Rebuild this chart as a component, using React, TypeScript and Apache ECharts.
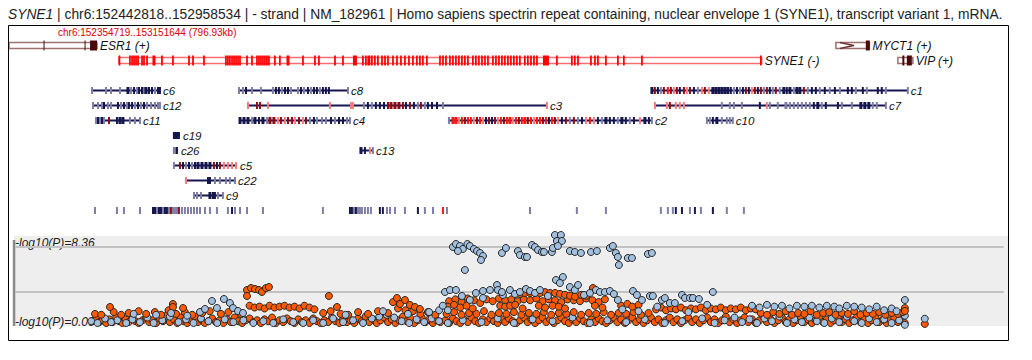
import React, { useEffect, useRef } from "react";
import * as echarts from "echarts";

// ---------- view (kb from chr6:152354719) ----------
const viewMinKb = 0;
const viewMaxKb = 796.93;

const titleGene = "SYNE1";
const titleRest =
  " | chr6:152442818..152958534 | - strand | NM_182961 | Homo sapiens spectrin repeat containing, nuclear envelope 1 (SYNE1), transcript variant 1, mRNA.";
const regionText = "chr6:152354719..153151644 (796.93kb)";
const yTopLabel = "-log10(P)=8.36";
const yBottomLabel = "-log10(P)=0.00";
const yTopValue = 8.36;
const yMidValue = 3.41;
const refLineValues = [yTopValue, yMidValue];

// ---------- genes ----------
const geneNames = ["ESR1 (+)", "SYNE1 (-)", "MYCT1 (+)", "VIP (+)"];
const geneStart = [0, 88.1, 663.3, 713.0];
const geneEnd = [70.6, 603.8, 690.2, 725.0];
const geneRow = [0, 1, 0, 1];
const geneKind = [1, 2, 3, 1];

// exons: [centerKb, widthKb?]
const esr1Exons = [[28.1, 0.8], [61.0, 0.8], [67.8, 5.6]];
const myct1Exons = [[688.9, 3.2]];
const vipExons = [[717.4, 1.6], [722.2, 4.0]];
const syne1Exons = [
  [88.6], [97.0], [98.7], [100.3], [101.9], [103.5], [106.7], [108.3], [110.7], [116.3, 2.4], [122.7], [131.5],
  [144.4], [147.6], [156.4], [174.0], [175.6], [177.2], [178.9], [180.5], [182.1], [183.7], [185.3], [190.9],
  [194.9], [198.9], [200.5], [202.1], [203.7], [205.3], [206.9], [208.5], [213.3], [217.3], [223.8, 2.4], [235.8],
  [245.4], [248.6], [261.5], [267.9], [277.5, 3.2], [283.9], [286.3], [288.7, 2.4], [291.1], [293.5], [295.9],
  [299.2], [301.6], [304.0], [308.0], [311.2], [314.4], [317.6], [320.8], [324.0], [327.2], [329.6], [332.0],
  [335.2], [345.7], [348.1], [350.5], [353.7], [356.1], [358.5], [360.9], [363.3], [365.7], [368.1], [372.1],
  [374.5], [376.9], [379.4], [381.8], [384.2], [388.2], [390.6], [393.0], [395.4], [397.8], [400.2], [402.6],
  [405.0], [407.4], [409.8], [413.8], [416.2], [418.7], [421.1], [423.5], [430.7, 4.8], [439.5], [451.5],
  [453.9], [456.4], [466.8], [470.0], [472.4], [478.8], [488.4], [493.2], [507.7], [603.1],
];

// ---------- clusters ----------
const clusterNames = ["c6", "c8", "c1", "c12", "c3", "c7", "c11", "c4", "c2", "c10", "c19", "c26", "c13", "c5", "c22", "c9"];
const clusterRow = [3, 3, 3, 4, 4, 4, 5, 5, 5, 5, 6, 7, 7, 8, 9, 10];
const clusterStart = [65.8, 184.5, 515.7, 67.4, 191.7, 518.1, 69.8, 184.5, 352.9, 559.8, 131.5, 131.5, 281.5, 132.3, 141.1, 148.4];
const clusterEnd = [121.1, 271.9, 721.0, 121.1, 431.5, 703.4, 105.1, 273.5, 515.7, 580.6, 137.1, 135.5, 291.9, 182.9, 181.3, 171.6];

// cluster exons: [centerKb, colourIndex, widthKb?]
const exC6 = [[66.6, 1], [77.8, 1], [81.8, 1], [89.0, 1], [95.4, 0, 2.4], [97.8, 1], [100.3, 0], [102.7, 1], [104.3, 0], [106.7, 0], [108.3, 1], [109.9, 0, 2.4], [112.3, 0], [114.7, 0], [117.1, 1], [119.5, 0], [121.1, 0]];
const exC8 = [[184.5, 1], [187.7, 1], [190.1, 0], [194.9, 1], [202.1, 1], [211.7, 1], [214.1, 0], [216.5, 0], [218.9, 1], [221.4, 0], [223.8, 0], [226.2, 1], [231.8, 1], [234.2, 0], [236.6, 1], [239.8, 0], [242.2, 1], [244.6, 0], [247.0, 0], [249.4, 1], [251.8, 0], [254.2, 0], [256.6, 0], [271.9, 1]];
const exC1 = [[515.7, 0, 2.4], [518.1, 2], [520.5, 0], [522.9, 1], [525.3, 2], [528.5, 3], [530.9, 2], [533.3, 4], [535.7, 2], [538.1, 0], [541.4, 2], [543.8, 4], [546.2, 2], [549.4, 0], [552.6, 1], [555.8, 4], [558.2, 2], [561.4, 4], [564.6, 0, 2.4], [567.0, 0, 2.4], [569.4, 0, 2.4], [571.8, 0, 2.4], [574.2, 0, 2.4], [576.6, 0, 2.4], [579.0, 0], [581.5, 1], [583.9, 0], [586.3, 1], [588.7, 0], [591.1, 2], [593.5, 0], [595.9, 4], [598.3, 2], [600.7, 0], [603.1, 2], [605.5, 1], [607.9, 2], [610.3, 0], [612.7, 1], [615.1, 2], [618.3, 1], [621.5, 0, 2.4], [623.9, 0], [626.4, 0, 2.4], [629.6, 1], [632.0, 0, 2.4], [634.4, 0, 2.4], [637.6, 2], [640.8, 1], [644.0, 0], [647.2, 0], [650.4, 1], [654.4, 0], [658.4, 1], [662.5, 0], [666.5, 1], [672.9, 0], [676.1, 0], [679.3, 1], [684.9, 0], [688.1, 1], [696.9, 0], [700.1, 0], [703.4, 1], [721.0, 1]];
const exC12 = [[67.4, 1], [71.4, 1], [74.6, 1], [76.2, 0], [79.4, 1], [81.8, 1], [87.4, 0], [89.8, 1], [92.2, 0], [94.6, 1], [96.2, 0], [98.7, 0], [101.1, 1], [103.5, 0], [105.9, 1], [108.3, 0], [110.7, 1], [113.9, 1], [117.1, 1], [119.5, 1], [121.1, 1]];
const exC3 = [[191.7, 4], [198.9, 2], [201.3, 2], [207.7, 4], [257.4, 4], [274.3, 4], [275.9, 4], [284.7, 1], [287.9, 0], [291.1, 1], [294.3, 0], [297.5, 0], [300.8, 0], [304.0, 2], [306.4, 2, 2.4], [309.6, 2, 2.4], [312.8, 2, 2.4], [316.0, 2], [318.4, 0], [321.6, 2], [324.8, 0], [328.0, 1], [330.4, 2], [333.6, 1], [336.0, 0], [339.3, 0], [343.3, 0], [348.1, 1], [431.5, 4]];
const exC7 = [[518.1, 4], [527.7, 4], [530.1, 2], [534.9, 4], [538.1, 4], [541.4, 4], [571.8, 1], [578.2, 1], [581.5, 1], [587.9, 1], [602.3, 0], [607.9, 4], [610.3, 1], [616.7, 1], [623.2, 1, 2.4], [626.4, 1], [629.6, 1], [632.8, 1], [636.0, 1], [639.2, 1], [642.4, 1], [645.6, 0], [648.8, 0, 2.4], [652.0, 1], [655.2, 0], [664.9, 0], [668.1, 1], [676.1, 1], [683.3, 0, 2.4], [686.5, 0, 2.4], [689.7, 0, 2.4], [692.9, 1], [696.1, 1], [703.4, 1]];
const exC11 = [[69.8, 1], [71.4, 0], [73.0, 1], [74.6, 0], [76.2, 1], [80.2, 2], [86.6, 0], [89.0, 0, 2.4], [91.4, 0, 2.4], [97.0, 1], [101.0, 1], [105.1, 1]];
const exC4 = [[185.3, 0, 2.4], [188.5, 0, 2.4], [191.7, 0, 2.4], [194.9, 1], [197.3, 0, 2.4], [200.5, 0], [203.7, 0, 2.4], [206.9, 1], [209.3, 2, 2.4], [212.5, 2, 2.4], [215.7, 4], [218.1, 2], [221.4, 4], [223.8, 2], [227.0, 2], [229.4, 4], [232.6, 2], [235.8, 4], [238.2, 2], [241.4, 1], [244.6, 0], [247.0, 1], [251.0, 1], [254.2, 1], [258.3, 0], [261.5, 1], [264.7, 0], [267.9, 0], [271.1, 1], [273.5, 1]];
const exC2 = [[352.9, 1], [356.1, 3, 2.4], [358.5, 3, 2.4], [360.9, 4], [363.3, 3], [365.7, 2], [368.1, 3], [370.5, 3], [372.9, 4], [375.4, 2], [377.8, 3], [380.2, 4], [382.6, 0], [385.0, 2], [387.4, 0], [389.8, 2], [392.2, 4], [394.6, 3], [397.0, 2], [399.4, 3], [401.8, 3, 2.4], [404.2, 4], [406.6, 3], [409.0, 2], [411.4, 3], [413.8, 3, 2.4], [416.2, 2], [418.7, 3], [421.1, 4], [423.5, 3], [425.9, 3], [428.3, 2], [430.7, 3], [433.1, 0], [435.5, 3], [437.9, 2], [440.3, 4], [443.5, 0], [446.7, 2], [449.9, 1], [453.1, 2], [456.4, 1], [459.6, 0], [462.8, 4], [466.0, 3], [469.2, 4], [472.4, 0], [475.6, 1], [478.8, 0, 2.4], [482.0, 0], [485.2, 0], [488.4, 1], [491.6, 0, 2.4], [494.8, 0], [498.0, 1], [501.3, 0], [506.1, 4], [510.1, 0, 2.4], [513.3, 0], [515.7, 1]];
const exC10 = [[559.8, 1], [562.2, 1], [564.6, 0], [567.8, 0, 2.4], [571.8, 1], [575.8, 1], [578.2, 1], [580.6, 1]];
const exC19 = [[134.3, 0, 5.6]];
const exC26 = [[133.5, 1, 4.0], [134.7, 0]];
const exC13 = [[282.3, 0, 2.4], [285.5, 0], [289.5, 4], [291.9, 1]];
const exC5 = [[132.3, 1], [137.1, 2], [139.6, 0], [142.0, 1], [144.4, 0], [146.8, 1], [149.2, 0], [151.6, 0, 2.4], [154.8, 0, 2.4], [158.0, 0, 2.4], [161.2, 0, 2.4], [164.4, 2], [166.8, 0], [169.2, 2], [172.4, 4], [175.6, 4], [178.9, 4], [182.1, 4]];
const exC22 = [[142.0, 4], [159.6, 0], [161.2, 0], [165.2, 1], [169.2, 1], [174.0, 1], [177.2, 1], [181.3, 1]];
const exC9 = [[148.4, 1], [150.8, 1], [154.0, 1], [161.2, 0, 2.4], [164.4, 0, 3.2], [167.6, 1], [171.6, 1]];
const clusterExons = [exC6, exC8, exC1, exC12, exC3, exC7, exC11, exC4, exC2, exC10, exC19, exC26, exC13, exC5, exC22, exC9];

// bottom feature row: [centerKb, colourIndex]
const featureTicks = [
  [69.0, 1], [86.6, 1], [92.2, 1], [105.1, 1], [115.5, 0], [117.1, 0], [118.7, 1], [120.3, 0], [121.9, 0], [123.5, 1],
  [125.1, 0], [126.7, 0], [128.3, 1], [129.9, 2], [131.5, 1], [133.1, 1], [134.7, 1], [136.3, 2], [138.7, 1], [141.1, 1],
  [143.6, 1], [146.0, 1], [148.4, 1], [150.8, 1], [153.2, 1], [157.2, 1], [161.2, 1], [166.8, 1], [175.6, 1], [178.9, 0],
  [181.3, 1], [185.3, 1], [190.9, 1], [203.7, 1], [251.8, 1], [273.5, 0], [275.1, 0], [276.7, 1], [278.3, 0], [279.9, 1],
  [281.5, 1], [283.1, 1], [285.5, 1], [287.9, 1], [290.3, 1], [297.5, 0], [299.9, 0], [303.2, 1], [305.6, 1], [309.6, 1],
  [317.6, 1], [328.0, 0], [333.6, 1], [340.1, 1], [348.1, 3], [351.3, 1], [417.9, 1], [455.5, 1], [478.8, 1], [522.9, 1],
  [528.5, 1], [532.5, 1], [534.9, 0], [539.8, 0], [546.2, 1], [550.2, 0], [555.0, 1], [564.6, 0], [575.8, 1], [589.5, 1],
];

// ---------- association scatter: [kb, -log10(P)] ----------
const orangeBand = [
  [67.5, 0.2], [70, 0.5], [72.5, 0.1], [75, 0.3], [78, 0.0], [80.5, 0.4], [83, 0.1], [86, 0.6], [88.5, 0.2], [91, 0.0],
  [93.5, 0.4], [96, 0.1], [99, 0.7], [101.5, 0.2], [104, 0.0], [107, 0.3], [110, 0.6], [112.5, 0.1], [115, 0.3], [118, 0.0],
  [121, 0.5], [123.5, 0.2], [126, 0.8], [129, 0.1], [132, 0.4], [135, 0.0], [137.5, 0.6], [140, 0.2], [143, 0.0], [146, 0.3],
  [149, 0.7], [151.5, 0.1], [154, 0.4], [157, 0.0], [160, 0.2], [163, 0.5], [166, 0.1], [169, 0.3], [172, 0.0], [175, 0.4],
  [178, 0.1], [181, 0.6], [184, 0.2], [187, 0.0], [190, 0.3], [193, 0.5], [196, 0.1], [199, 0.3], [202, 0.0], [205, 0.4],
  [208, 0.2], [211, 0.6], [214, 0.0], [217, 0.3], [220, 0.1], [223, 0.5], [226, 0.2], [229, 0.0], [232, 0.4], [235, 0.1],
  [238, 0.3], [241, 0.0], [244, 0.5], [247, 0.2], [250, 0.0], [253, 0.3], [256, 0.1], [259, 0.6], [262, 0.2], [265, 0.0],
  [268, 0.4], [271, 0.1], [274, 0.3], [277, 0.0], [280, 0.5], [283, 0.2], [286, 0.7], [289, 0.1], [292, 0.4], [295, 0.0],
  [298, 0.3], [301, 0.6], [304, 0.1], [307, 0.4], [310, 0.0], [313, 0.3], [316, 0.7], [319, 0.2], [322, 0.5], [325, 0.0],
  [328, 0.3], [331, 0.6], [334, 0.1], [337, 0.4], [340, 0.0], [343, 0.3], [346, 0.1], [350, 0.3], [353, 0.0], [356, 0.5],
  [359, 0.2], [362, 0.0], [365, 0.4], [368, 0.1], [371, 0.6], [374, 0.2], [377, 0.0], [380, 0.4], [383, 0.1], [386, 0.5],
  [389, 0.2], [392, 0.0], [395, 0.4], [398, 0.1], [401, 0.5], [404, 0.2], [407, 0.0], [410, 0.3], [413, 0.6], [416, 0.1],
  [419, 0.4], [422, 0.0], [425, 0.3], [428, 0.6], [431, 0.1], [434, 0.4], [437, 0.0], [440, 0.3], [443, 0.6], [446, 0.2],
  [449, 0.0], [452, 0.4], [455, 0.1], [458, 0.5], [461, 0.2], [464, 0.0], [467, 0.4], [470, 0.1], [473, 0.5], [476, 0.2],
  [479, 0.0], [482, 0.3], [485, 0.6], [488, 0.1], [491, 0.4], [494, 0.0], [497, 0.3], [500, 0.6], [503, 0.1], [506, 0.4],
  [509, 0.0], [512, 0.3], [515, 0.6], [518, 0.1], [521, 0.4], [524, 0.0], [527, 0.3], [530, 0.6], [533, 0.1], [536, 0.4],
  [539, 0.0], [542, 0.3], [545, 0.6], [548, 0.1], [551, 0.4], [554, 0.0], [557, 0.3], [560, 0.6], [563, 0.1], [566, 0.4],
  [569, 0.0], [572, 0.3], [575, 0.7], [578, 0.1], [581, 0.4], [584, 0.0], [587, 0.3], [590, 0.6], [593, 0.1], [596, 0.4],
  [599, 0.0], [602, 0.3], [605, 0.7], [608, 0.1], [611, 0.4], [614, 0.0], [617, 0.3], [620, 0.6], [623, 0.1], [626, 0.4],
  [629, 0.0], [632, 0.3], [635, 0.7], [638, 0.1], [641, 0.4], [644, 0.0], [647, 0.3], [650, 0.6], [653, 0.1], [656, 0.4],
  [659, 0.0], [662, 0.3], [665, 0.7], [668, 0.1], [671, 0.4], [674, 0.0], [677, 0.3], [680, 0.6], [683, 0.1], [686, 0.4],
  [689, 0.0], [692, 0.3], [695, 0.6], [698, 0.1], [701, 0.4], [704, 0.0], [707, 0.3], [710, 0.6], [713, 0.1], [716, 0.4],
  [718.5, 0.0], [734.6, -0.1],
];
const orangeLayer = [
  [69, 1.0], [74, 0.9], [84, 1.2], [90, 0.9], [96, 1.1], [104, 1.3], [110, 1.0], [117, 1.2], [122, 0.9], [128, 1.4],
  [134, 1.0], [141, 1.2], [147, 0.9], [155, 1.1], [161, 1.3], [170, 1.0], [176, 1.2], [186, 1.0],
  [193, 1.9], [197, 1.7], [201, 1.8], [205, 1.6], [209, 1.9], [213, 1.7], [217, 1.8], [221, 1.9], [225, 1.7], [229, 1.8],
  [233, 1.6], [237, 1.9], [241, 1.7], [245, 1.5], [252, 1.1], [258, 1.3], [266, 1.0], [272, 0.9], [280, 1.2], [288, 1.0],
  [296, 1.3], [304, 1.1], [312, 1.6], [318, 1.4], [324, 1.3], [330, 1.0], [336, 1.2], [342, 0.9],
  [351, 1.0], [357, 1.2], [363, 0.9], [369, 1.1], [375, 1.0], [381, 1.3], [387, 0.9], [393, 1.1], [399, 1.0], [405, 1.2],
  [411, 0.9], [417, 1.1], [423, 1.0], [429, 1.2], [435, 0.9], [441, 1.1], [447, 1.0], [453, 1.2], [459, 0.9], [465, 1.1],
  [471, 1.0], [477, 1.2], [483, 0.9], [489, 1.1], [495, 1.0], [501, 1.2], [507, 0.9], [513, 1.1],
  [353, 2.4], [358, 2.6], [363, 2.3], [368, 2.7], [373, 2.5], [378, 2.2], [383, 2.6], [388, 2.4], [393, 2.7], [398, 2.5],
  [403, 2.6], [408, 2.4], [413, 2.6], [418, 2.5], [423, 2.7], [428, 2.4], [433, 2.6], [438, 2.5], [443, 2.3], [448, 2.6],
  [453, 2.5], [458, 2.4], [463, 2.7], [468, 2.5], [473, 2.3], [478, 2.6],
  [410, 3.2], [414, 3.3], [418, 3.3], [422, 3.3], [426, 3.3], [430, 3.4], [434, 3.3], [438, 3.3], [442, 3.2], [446, 3.1],
  [450, 3.0], [454, 2.9], [459, 3.1], [463, 3.0], [468.4, 3.85],
  [352, 1.8], [357, 2.0], [362, 1.7], [367, 1.9], [372, 1.6], [394, 1.9], [398, 1.8], [402, 1.9], [406, 2.0], [412, 1.6],
  [425, 1.9], [430, 1.7], [436, 1.9], [441, 1.8], [446, 1.6], [470, 1.9], [476, 1.7], [491, 1.9], [496, 2.1], [500, 1.8], [505, 2.0],
  [519, 1.5], [523, 1.7], [527, 1.4], [531, 1.6], [535, 1.5], [539, 1.7], [543, 1.4], [547, 1.6], [551, 1.5], [555, 1.7],
  [559, 1.4], [563, 1.6], [567, 1.5], [571, 1.7], [575, 1.4], [579, 1.6], [583, 1.5], [587, 1.7], [591, 1.4], [595, 1.6], [599, 1.5],
  [603, 1.1], [608, 0.9], [613, 1.2], [618, 1.0], [623, 1.3], [628, 0.9], [633, 1.1], [638, 1.0], [643, 1.3], [648, 0.9],
  [653, 1.1], [658, 1.2], [663, 0.9], [668, 1.1], [673, 1.0], [678, 1.3], [683, 0.9], [688, 1.1], [693, 1.0], [698, 1.2],
  [703, 0.9], [708, 1.1], [713, 1.0], [717, 1.2], [718.6, 1.65], [718.6, 1.32],
];
const orangePeaks = [
  [81.0, 1.76], [131.5, 2.09], [131.5, 1.76], [139.6, 1.65],
  [190.9, 3.63], [190.9, 2.97], [194.1, 3.85], [197.3, 3.74], [200.5, 3.63], [202.9, 3.41], [206.1, 3.85], [208.5, 3.96],
  [256.6, 2.97], [263.1, 1.76],
  [308.0, 2.3], [311.2, 2.75], [313.6, 2.09], [317.6, 2.53], [321.6, 1.98], [325.6, 1.76], [329.6, 1.54],
];
const blueBand = [
  [66, 0.2], [71, 0.0], [77, 0.5], [82, 0.1], [87, 0.3], [94, 0.0], [99, 0.4], [105, 0.1], [111, 0.6], [116, 0.0],
  [123, 0.3], [129, 0.7], [136, 0.1], [142, 0.4], [148, 0.0], [154, 0.5], [160, 0.2], [167, 0.0], [173, 0.4], [180, 0.1],
  [188, 0.3], [196, 0.0], [204, 0.2], [212, 0.0], [220, 0.4], [228, 0.1], [236, 0.0], [244, 0.3], [252, 0.0], [260, 0.5],
  [268, 0.1], [276, 0.3], [284, 0.0], [291, 0.5], [297, 0.7], [303, 0.9], [309, 0.6], [315, 0.2], [321, 0.0], [327, 0.4],
  [333, 0.1], [339, 0.5], [345, 0.2], [352, 0.0], [364, 0.3], [379, 0.1], [392, 0.5], [405, 0.0], [420, 0.4], [436, 0.2],
  [452, 0.6], [466, 0.0], [480, 0.3], [495, 0.1], [510, 0.4], [526, 0.0], [540, 0.2], [556, 0.5], [566, 0.0], [574, 0.3],
  [582, 0.6], [588, 0.1], [594, 0.4], [600, 0.0], [606, 0.5], [612, 0.2], [618, 0.7], [624, 0.0], [630, 0.4], [636, 0.1],
  [642, 0.6], [648, 0.2], [654, 0.0], [660, 0.5], [666, 0.1], [672, 0.7], [678, 0.2], [684, 0.0], [690, 0.5], [696, 0.1],
  [702, 0.4], [708, 0.0], [714, 0.3], [718.6, 0.8], [718.6, -0.2], [734.6, 0.47],
];
const blueUpper = [
  [100, 1.0], [118, 0.9], [130, 1.1], [143, 0.8], [153.2, 1.21], [157.2, 1.54], [162.8, 2.42], [166.8, 1.65], [172.4, 2.64],
  [177.2, 2.2], [179.7, 1.65], [183.7, 1.32], [187.7, 1.1], [270, 0.9], [300, 1.3], [320, 1.0], [337, 1.2], [345, 1.4],
  [348, 1.9], [352, 1.4], [492, 1.5], [505, 1.3], [520, 1.8], [545, 1.2], [560, 2.0],
  [596, 1.9], [602, 1.7], [608, 2.0], [614, 1.8], [620, 1.9], [626, 1.6], [632, 1.9], [638, 1.8], [644, 1.9], [650, 1.7],
  [656, 1.9], [662, 1.8], [666, 1.6], [672, 1.9], [678, 1.8], [684, 1.7], [690, 1.5], [696, 1.8], [702, 1.4], [708, 1.6],
  [712, 1.3], [718.6, 2.53],
  [349.7, 3.41], [353.7, 3.63], [358.5, 3.63], [363.3, 2.97], [369.7, 2.53], [374.5, 3.3], [380.2, 3.52], [385.8, 3.63],
  [391.4, 4.18], [392.2, 3.63], [396.2, 3.08], [380.2, 2.75], [395.4, 3.41], [401.8, 3.63], [405.8, 3.19], [409.8, 3.41],
  [414.6, 3.74], [417.9, 3.52], [421.9, 3.3], [425.9, 3.63], [432.3, 2.97], [438.7, 4.73], [444.3, 5.06], [441.9, 4.4],
  [449.9, 3.96], [453.9, 3.63], [456.4, 4.18], [461.2, 3.08], [466.0, 3.3], [470.8, 3.63], [474.0, 3.41], [478.0, 3.41],
  [482.0, 3.52], [485.2, 3.19], [488.4, 2.53], [500.5, 3.52], [503.7, 3.08], [507.7, 2.53], [514.1, 2.97], [516.5, 2.97],
  [523.7, 2.53], [526.1, 2.75], [530.1, 2.2], [534.1, 2.2], [539.8, 3.08], [542.2, 2.75], [546.2, 2.75], [548.6, 2.75],
  [553.4, 2.64], [564.6, 3.41],
];
const bluePeak = [
  [356.1, 8.36], [358.5, 8.69], [361.7, 8.47], [364.1, 8.14], [367.7, 8.69], [369.7, 8.47], [372.9, 8.14], [375.4, 7.92],
  [377.8, 7.7], [380.2, 7.37], [378.6, 6.93], [365.7, 5.83], [360.1, 7.92], [395.4, 7.7], [398.6, 8.25], [408.2, 7.92],
  [409.8, 7.48], [413.8, 7.26], [415.5, 7.26], [419.5, 8.58], [421.9, 8.36], [424.3, 8.03], [427.5, 7.81], [429.1, 7.81],
  [435.5, 7.81], [436.3, 8.25], [437.9, 9.68], [442.7, 9.68], [439.5, 9.02], [443.5, 9.02], [440.3, 8.47], [449.9, 7.92],
  [453.9, 7.81], [458.8, 7.7], [466.8, 7.81], [471.6, 7.92], [482.0, 8.25], [484.4, 8.47], [486.8, 7.7], [488.4, 7.26],
  [489.2, 6.38], [496.4, 7.15], [499.7, 7.15], [512.5, 7.59], [515.7, 7.7],
];

// ---------- styling ----------
const exonColors = ["#16164f", "#7e7ea6", "#8c0d16", "#ff1414", "#ff7b7b", "#ff0000", "#4b0a0a"];
const FONT = "'Liberation Sans', Arial, Helvetica, sans-serif";

function buildExons(list: any[], row: number, h: number, color?: number, defW = 1.6) {
  return list.map((e: any) => {
    const c = e[0];
    const col = color !== undefined ? color : e[1];
    const w = color !== undefined ? (e[1] ?? defW) : (e[2] ?? defW);
    return [c - w / 2, c + w / 2, row, col, h];
  });
}

export default function App() {
  const ref = useRef<HTMLDivElement>(null);
  useEffect(() => {
    if (!ref.current) return;
    const chart = echarts.init(ref.current, undefined, { renderer: "svg" });

    const lineData: any[] = [];
    const lineLabels: string[] = [];
    geneNames.forEach((n, i) => {
      lineData.push([geneStart[i], geneEnd[i], geneRow[i], geneKind[i]]);
      lineLabels.push(n);
    });
    clusterNames.forEach((n, i) => {
      lineData.push([clusterStart[i], clusterEnd[i], clusterRow[i], 0]);
      lineLabels.push(n);
    });

    const exonData: any[] = [
      ...buildExons(esr1Exons, 0, 10, 6),
      ...buildExons(syne1Exons, 1, 10, 5, 1.4),
      ...buildExons(myct1Exons, 0, 10, 6),
      ...buildExons(vipExons, 1, 10, 6),
      ...buildExons(featureTicks, 11, 7),
    ];
    clusterExons.forEach((list, i) => {
      exonData.push(...buildExons(list, clusterRow[i], 7));
    });

    const renderLine = (params: any, api: any) => {
      const row = api.value(2);
      const kind = api.value(3);
      const p0 = api.coord([api.value(0), row]);
      const p1 = api.coord([api.value(1), row]);
      const cy = p0[1];
      const children: any[] = [];
      if (kind === 0) {
        children.push({
          type: "line",
          shape: { x1: p0[0], y1: cy, x2: p1[0], y2: cy },
          style: { stroke: "#16164f", lineWidth: 2 },
        });
      } else {
        const stroke = kind === 2 ? "#ff6e6e" : "#9e7070";
        children.push({
          type: "rect",
          shape: { x: p0[0], y: cy - 3, width: p1[0] - p0[0], height: 6 },
          style: { fill: "none", stroke, lineWidth: 1.5 },
        });
        if (kind === 3) {
          children.push({
            type: "polyline",
            shape: { points: [[p0[0] + 4, cy - 3], [p0[0] + 18, cy], [p0[0] + 4, cy + 3]] },
            style: { fill: "none", stroke: "#6e3434", lineWidth: 1.5 },
          });
        }
      }
      children.push({
        type: "text",
        style: {
          text: lineLabels[params.dataIndex],
          x: p1[0] + 3,
          y: cy,
          fontSize: kind === 0 ? 11.5 : 12,
          fontStyle: "italic",
          fontFamily: FONT,
          fill: "#111",
          align: "left",
          verticalAlign: "middle",
        },
      });
      return { type: "group", children };
    };

    const renderExon = (params: any, api: any) => {
      const row = api.value(2);
      const p0 = api.coord([api.value(0), row]);
      const p1 = api.coord([api.value(1), row]);
      const h = api.value(4);
      return {
        type: "rect",
        shape: { x: p0[0], y: p0[1] - h / 2, width: Math.max(1, p1[0] - p0[0]), height: h },
        style: { fill: exonColors[api.value(3)] },
      };
    };

    const renderRefLine = (params: any, api: any) => {
      const v = api.value(2);
      const p0 = api.coord([api.value(0), v]);
      const p1 = api.coord([api.value(1), v]);
      return {
        type: "line",
        shape: { x1: p0[0], y1: p0[1], x2: p1[0], y2: p1[1] },
        style: { stroke: "#c2c2c2", lineWidth: 2 },
      };
    };

    const dot = (color: string) => ({
      color,
      borderColor: "#262626",
      borderWidth: 1,
      opacity: 1,
    });

    chart.setOption({
      animation: false,
      grid: [
        { left: 9, width: 993.5, top: 38, height: 180 },
        { left: 9, width: 993.5, top: 236, height: 90 },
      ],
      xAxis: [
        { type: "value", gridIndex: 0, min: viewMinKb, max: viewMaxKb, show: false },
        { type: "value", gridIndex: 1, min: viewMinKb, max: viewMaxKb, show: false },
      ],
      yAxis: [
        { type: "value", gridIndex: 0, min: -0.5, max: 11.5, inverse: true, show: false },
        { type: "value", gridIndex: 1, min: -0.33, max: 9.57, show: false },
      ],
      graphic: [
        {
          type: "text",
          left: 8,
          top: 7,
          style: {
            text: "{g|" + titleGene + "}{r|" + titleRest + "}",
            rich: {
              g: { fontSize: 13.8, fontStyle: "italic", fontFamily: FONT, fill: "#222" },
              r: { fontSize: 13.8, fontFamily: FONT, fill: "#222" },
            },
          },
        },
        {
          type: "rect",
          shape: { x: 8.5, y: 25.5, width: 1000, height: 315 },
          style: { fill: "none", stroke: "#000", lineWidth: 1 },
          z: 10,
        },
        {
          type: "text",
          x: 58,
          y: 32.5,
          style: { text: regionText, fontSize: 10, fontFamily: FONT, fill: "#e00000", verticalAlign: "middle" },
        },
        {
          type: "rect",
          shape: { x: 14, y: 236, width: 994, height: 90 },
          style: { fill: "#eeeeee" },
          z: -1,
        },
        {
          type: "rect",
          shape: { x: 12.8, y: 240, width: 2.5, height: 86 },
          style: { fill: "#8a8a8a" },
        },
        {
          type: "text",
          x: 15,
          y: 243,
          style: { text: yTopLabel, fontSize: 12, fontStyle: "italic", fontFamily: FONT, fill: "#222", verticalAlign: "middle" },
        },
        {
          type: "text",
          x: 15,
          y: 322,
          style: { text: yBottomLabel, fontSize: 12, fontStyle: "italic", fontFamily: FONT, fill: "#222", verticalAlign: "middle" },
        },
      ],
      series: [
        {
          type: "custom",
          xAxisIndex: 0,
          yAxisIndex: 0,
          renderItem: renderLine,
          data: lineData,
          encode: { x: [0, 1], y: 2 },
          clip: false,
          z: 2,
        },
        {
          type: "custom",
          xAxisIndex: 0,
          yAxisIndex: 0,
          renderItem: renderExon,
          data: exonData,
          encode: { x: [0, 1], y: 2 },
          clip: false,
          z: 3,
        },
        {
          type: "custom",
          xAxisIndex: 1,
          yAxisIndex: 1,
          renderItem: renderRefLine,
          data: refLineValues.map((v) => [4.8, 797.9, v]),
          encode: { x: [0, 1], y: 2 },
          clip: false,
          z: 1,
        },
        { type: "scatter", xAxisIndex: 1, yAxisIndex: 1, data: orangeBand, symbolSize: 7, itemStyle: dot("#ff5a00"), clip: false, z: 3 },
        { type: "scatter", xAxisIndex: 1, yAxisIndex: 1, data: blueBand, symbolSize: 7, itemStyle: dot("#a2c0df"), clip: false, z: 3 },
        { type: "scatter", xAxisIndex: 1, yAxisIndex: 1, data: orangeLayer, symbolSize: 7, itemStyle: dot("#ff5a00"), clip: false, z: 4 },
        { type: "scatter", xAxisIndex: 1, yAxisIndex: 1, data: orangePeaks, symbolSize: 7, itemStyle: dot("#ff5a00"), clip: false, z: 4 },
        { type: "scatter", xAxisIndex: 1, yAxisIndex: 1, data: blueUpper, symbolSize: 7, itemStyle: dot("#a2c0df"), clip: false, z: 5 },
        { type: "scatter", xAxisIndex: 1, yAxisIndex: 1, data: bluePeak, symbolSize: 7, itemStyle: dot("#a2c0df"), clip: false, z: 5 },
      ],
    });
    return () => chart.dispose();
  }, []);
  return (
    <div
      ref={ref}
      style={{ position: "absolute", left: 0, top: 0, width: 1032, height: 360, background: "#fff" }}
    />
  );
}
